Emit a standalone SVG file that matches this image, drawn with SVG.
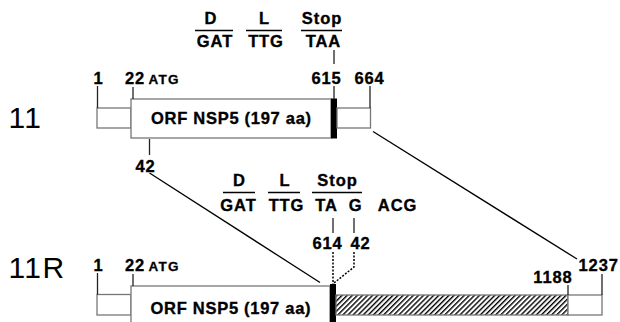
<svg xmlns="http://www.w3.org/2000/svg" width="620" height="322" viewBox="0 0 620 322">
<style>
.b{font-family:"Liberation Sans",Arial,sans-serif;font-weight:bold;font-size:16.5px;letter-spacing:0.9px;fill:#000;stroke:#000;stroke-width:0.35}
.s{font-family:"Liberation Sans",Arial,sans-serif;font-weight:bold;font-size:13.5px;letter-spacing:1.2px;fill:#000;stroke:#000;stroke-width:0.3}
.big{font-family:"Liberation Sans",Arial,sans-serif;font-size:30px;letter-spacing:1.5px;fill:#000}
.m{text-anchor:middle}
.box{fill:#fff;stroke:#777;stroke-width:1.3}
.bar{fill:#000}
.tick{stroke:#222;stroke-width:1.3;fill:none}
.ul{stroke:#000;stroke-width:1.5}
.conn{stroke:#000;stroke-width:1.3;fill:none}
.dot{stroke:#000;stroke-width:1.5;stroke-dasharray:2 1.5;fill:none}
</style>
<defs>
<pattern id="hatch" patternUnits="userSpaceOnUse" width="3.6" height="3.6" patternTransform="rotate(45)">
<rect width="3.6" height="3.6" fill="#fff"/>
<line x1="0.7" y1="0" x2="0.7" y2="3.6" stroke="#000" stroke-width="1.4"/>
</pattern>
</defs>

<g id="connectors">
<line class="conn" x1="149.5" y1="173" x2="320" y2="282.5"/>
<line class="conn" x1="373" y1="131.5" x2="577" y2="259"/>
<polyline class="dot" points="333,252 333,284"/>
<polyline class="dot" points="354,252 354,267 334,283"/>
</g>

<g id="label-11"><text class="big" x="8.4" y="128.3">11</text></g>
<g id="label-11R"><text class="big" x="8.4" y="278.3">11R</text></g>

<g id="codons-top">
<text class="b m" x="211" y="24">D</text>
<text class="b m" x="264.5" y="24">L</text>
<text class="b m" x="322" y="24">Stop</text>
<line class="ul" x1="195" y1="30.5" x2="233" y2="30.5"/>
<line class="ul" x1="246" y1="30.5" x2="282" y2="30.5"/>
<line class="ul" x1="301" y1="30.5" x2="342" y2="30.5"/>
<text class="b m" x="215" y="47">GAT</text>
<text class="b m" x="266" y="47">TTG</text>
<text class="b m" x="323.5" y="47">TAA</text>
<line class="tick" x1="334" y1="50" x2="334" y2="64"/>
</g>

<g id="segment-11">
<rect class="box" x="97" y="108" width="34" height="20"/>
<rect class="box" x="131" y="99" width="200" height="39"/>
<rect class="bar" x="331" y="98.5" width="6" height="40"/>
<rect class="box" x="337" y="108" width="33.5" height="20"/>
<text class="b" x="151" y="124.3" textLength="161" lengthAdjust="spacing">ORF NSP5 (197 aa)</text>
<line class="tick" x1="97.5" y1="86" x2="97.5" y2="108"/>
<line class="tick" x1="133" y1="87" x2="133" y2="99"/>
<line class="tick" x1="334" y1="86" x2="334" y2="99"/>
<line class="tick" x1="370" y1="86" x2="370" y2="108"/>
<line class="tick" x1="149.5" y1="139" x2="149.5" y2="155"/>
<text class="b m" x="98.5" y="84">1</text>
<text class="b m" x="135" y="84">22</text>
<text class="s" x="148.5" y="84">ATG</text>
<text class="b m" x="326.5" y="84">615</text>
<text class="b m" x="369.5" y="84">664</text>
<text class="b m" x="145.5" y="171.5">42</text>
</g>

<g id="codons-bottom">
<text class="b m" x="239.5" y="186">D</text>
<text class="b m" x="285" y="186">L</text>
<text class="b m" x="337.5" y="186">Stop</text>
<line class="ul" x1="223" y1="192.5" x2="255" y2="192.5"/>
<line class="ul" x1="268" y1="192.5" x2="300" y2="192.5"/>
<line class="ul" x1="312" y1="192.5" x2="362" y2="192.5"/>
<text class="b m" x="238.5" y="211">GAT</text>
<text class="b m" x="286.5" y="211">TTG</text>
<text class="b m" x="326.5" y="211">TA</text>
<text class="b m" x="355.5" y="211">G</text>
<text class="b m" x="397.5" y="211">ACG</text>
<line class="tick" x1="333" y1="218" x2="333" y2="233"/>
<line class="tick" x1="354" y1="218" x2="354" y2="233"/>
<text class="b m" x="327.5" y="249">614</text>
<text class="b m" x="360.5" y="249">42</text>
</g>

<g id="segment-11R">
<rect class="box" x="97" y="294.5" width="34" height="20.5"/>
<rect class="box" x="131" y="286" width="199" height="45"/>
<rect class="bar" x="330" y="284" width="6" height="45"/>
<rect x="336" y="295" width="232" height="20" fill="url(#hatch)" stroke="#777" stroke-width="1.3"/>
<rect class="box" x="568" y="295" width="34" height="20"/>
<text class="b" x="150.5" y="314" textLength="161" lengthAdjust="spacing">ORF NSP5 (197 aa)</text>
<line class="tick" x1="97.5" y1="273" x2="97.5" y2="294.5"/>
<line class="tick" x1="133" y1="274" x2="133" y2="286"/>
<line class="tick" x1="568" y1="285" x2="568" y2="295"/>
<line class="tick" x1="602" y1="274" x2="602" y2="295"/>
<text class="b m" x="98.5" y="271">1</text>
<text class="b m" x="135" y="271">22</text>
<text class="s" x="148.5" y="271">ATG</text>
<text class="b m" x="553" y="283">1188</text>
<text class="b" x="578.5" y="271">1237</text>
</g>
</svg>
